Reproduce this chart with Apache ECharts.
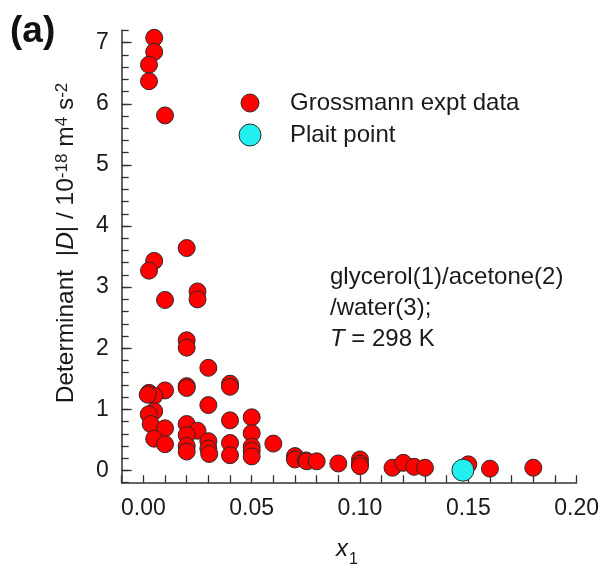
<!DOCTYPE html>
<html><head><meta charset="utf-8">
<script src="https://cdn.jsdelivr.net/npm/echarts@6/dist/echarts.min.js"></script>
<style>html,body{margin:0;padding:0;background:#fff}#c{width:602px;height:579px}</style>
</head><body><div id="c"></div>
<script>
// Grossmann experimental data: x1 and determinant |D| (1e-18 m^4 s^-2)
const exptX = [0.005,0.005,0.0026,0.0026,0.010,0.020,0.005,0.0026,0.025,0.025,0.010,0.020,0.020,0.030,
  0.040,0.040,0.020,0.020,0.010,0.0026,0.005,0.002,0.030,0.005,0.0025,0.0034,0.010,0.020,0.025,0.020,
  0.040,0.050,0.050,0.005,0.010,0.020,0.020,0.030,0.030,0.0304,0.040,0.040,0.050,0.050,0.050,0.060,
  0.070,0.070,0.075,0.0755,0.080,0.090,0.100,0.100,0.100,0.115,0.120,0.125,0.130,0.150,0.160,0.180];
const exptY = [7.08,6.85,6.64,6.37,5.81,3.64,3.43,3.27,2.93,2.80,2.79,2.13,2.01,1.68,
  1.42,1.37,1.38,1.35,1.31,1.27,1.22,1.24,1.07,0.97,0.92,0.76,0.69,0.76,0.65,0.58,
  0.82,0.87,0.61,0.52,0.43,0.40,0.31,0.48,0.36,0.27,0.45,0.25,0.39,0.32,0.23,0.44,
  0.235,0.18,0.165,0.15,0.15,0.115,0.18,0.11,0.07,0.045,0.125,0.06,0.045,0.10,0.03,0.045];
const plaitX = [0.1475];
const plaitY = [0.005];
const xTickLabels = ['0.00','0.05','0.10','0.15','0.20'];
const yTickLabels = ['0','1','2','3','4','5','6','7'];
const yMajorTicks = [0,1,2,3,4,5,6,7];

const FF = "'Liberation Sans', Arial, sans-serif";
const FS = 23;
const FT = 24;
const chart = echarts.init(document.getElementById('c'), null, {renderer:'canvas'});
const expt = exptX.map((x,i)=>[x, exptY[i]]);
const plait = plaitX.map((x,i)=>[x, plaitY[i]]);

chart.setOption({
  animation:false,
  backgroundColor:'#fff',
  grid:{left:121.7, top:30.5, right:25.3, bottom:96.3, containLabel:false},
  xAxis:{type:'value', min:-0.01, max:0.2, interval:0.01,
    axisLine:{show:true, onZero:false, lineStyle:{color:'#333', width:1.5}},
    axisTick:{show:true, inside:true, length:7.5, lineStyle:{color:'#333', width:1.3}},
    splitLine:{show:false},
    axisLabel:{margin:14, color:'#1a1a1a', fontSize:FS, fontFamily:FF,
      formatter:function(v){
        const k = Math.round(v/0.05);
        if (k>=0 && Math.abs(v-k*0.05)<1e-6) return xTickLabels[k] || '';
        return '';
      }}
  },
  yAxis:[{type:'value', min:-0.2, max:7.2, interval:0.2,
    axisLine:{show:true, onZero:false, lineStyle:{color:'#666', width:2}},
    axisTick:{show:true, inside:true, length:7, lineStyle:{color:'#333', width:1.3}},
    splitLine:{show:false},
    axisLabel:{margin:13, color:'#1a1a1a', fontSize:FS, fontFamily:FF,
      formatter:function(v){
        const k = Math.round(v);
        if (k>=0 && Math.abs(v-k)<1e-6) return yTickLabels[k] || '';
        return '';
      }}
  },{type:'value', min:-0.2, max:7.2, position:'left',
    axisLine:{show:false, onZero:false}, splitLine:{show:false}, axisLabel:{show:false},
    axisTick:{show:true, inside:true, length:10, customValues:yMajorTicks, lineStyle:{color:'#333', width:1.3}}
  }],
  series:[
    {name:'Grossmann expt data', type:'scatter', data:expt, symbol:'circle', symbolSize:17,
     itemStyle:{color:'#ff0000', borderColor:'#2a2a2a', borderWidth:1, opacity:1}, z:2},
    {name:'Plait point', type:'scatter', data:plait, symbol:'circle', symbolSize:22,
     itemStyle:{color:'#22f0f0', borderColor:'#2a2a2a', borderWidth:1, opacity:1}, z:3}
  ],
  graphic:[
    {type:'text', left:10, top:13, style:{text:'(a)', fontSize:37, fontWeight:'bold', fontFamily:FF, fill:'#111'}},
    {type:'text', x:66, y:243, rotation:Math.PI/2, style:{
      text:'Determinant  |{i|D}| / 10{sup|-18} m{sup|4} s{sup|-2}',
      fontSize:24.5, fontFamily:FF, fill:'#1a1a1a', align:'center', verticalAlign:'middle',
      rich:{i:{fontSize:24.5, fontStyle:'italic', fontFamily:FF, fill:'#1a1a1a'},
            sup:{fontSize:17, fontFamily:FF, fill:'#1a1a1a', verticalAlign:'top'}}
    }},
    {type:'text', x:347, y:549, style:{
      text:'{i|x}{sub|1}', align:'center', verticalAlign:'middle',
      rich:{i:{fontSize:24, fontStyle:'italic', fontFamily:FF, fill:'#1a1a1a'},
            sub:{fontSize:16, fontFamily:FF, fill:'#1a1a1a', verticalAlign:'bottom', padding:[0,0,-7,1]}}
    }},
    {type:'circle', shape:{cx:250, cy:103, r:9}, style:{fill:'#ff0000', stroke:'#2a2a2a', lineWidth:1}},
    {type:'text', x:290, y:103, style:{text:'Grossmann expt data', fontSize:FT, fontFamily:FF, fill:'#1a1a1a', verticalAlign:'middle'}},
    {type:'circle', shape:{cx:250, cy:135, r:11}, style:{fill:'#22f0f0', stroke:'#2a2a2a', lineWidth:1}},
    {type:'text', x:290, y:135, style:{text:'Plait point', fontSize:FT, fontFamily:FF, fill:'#1a1a1a', verticalAlign:'middle'}},
    {type:'text', x:330, y:261.5, style:{
      text:'glycerol(1)/acetone(2)\n/water(3);\n{i|T} = 298 K', fontSize:FT, lineHeight:31, fontFamily:FF, fill:'#1a1a1a',
      rich:{i:{fontSize:FT, fontStyle:'italic', lineHeight:31, fontFamily:FF, fill:'#1a1a1a'}}
    }}
  ]
});
</script>
</body></html>
